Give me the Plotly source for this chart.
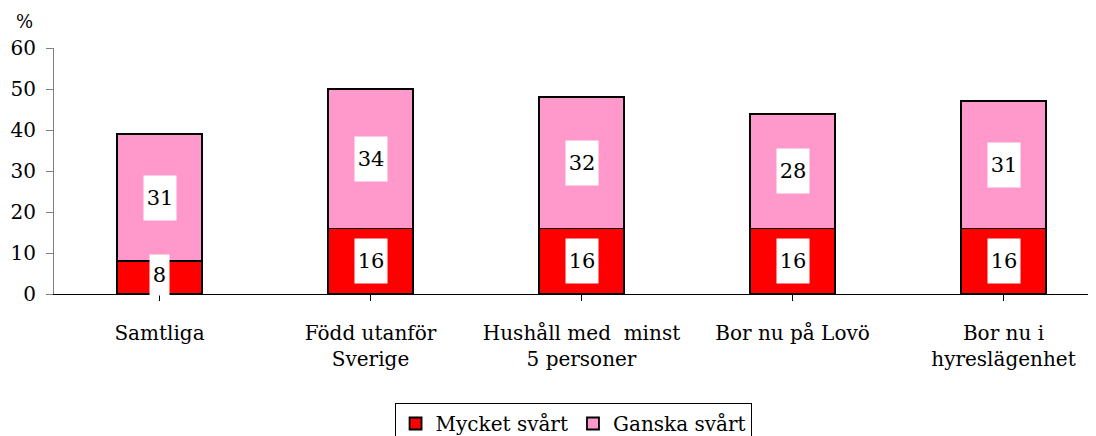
import plotly.graph_objects as go

categories = ["Samtliga", "Född utanför<br>Sverige", "Hushåll med\u00a0 minst<br>5 personer",
              "Bor nu på Lovö", "Bor nu i<br>hyreslägenhet"]
mycket = [8, 16, 16, 16, 16]
ganska = [31, 34, 32, 28, 31]
series_names = ["Mycket svårt", "Ganska svårt"]
y_ticks = [0, 10, 20, 30, 40, 50, 60]

FONT = "DejaVu Serif"
RED = "#FF0000"
PINK = "#FF99CC"

x_idx = list(range(len(categories)))

fig = go.Figure()
fig.add_trace(go.Bar(x=x_idx, y=mycket, name=series_names[0], width=0.4,
                     marker=dict(color=RED, line=dict(color="black", width=1.8))))
fig.add_trace(go.Bar(x=x_idx, y=ganska, name=series_names[1], width=0.4,
                     marker=dict(color=PINK, line=dict(color="black", width=1.8))))

annotations = []
for i, (m, g) in enumerate(zip(mycket, ganska)):
    w = 19 if m < 10 else 32
    annotations.append(dict(x=i, y=m / 2, text=str(m), showarrow=False,
                            bgcolor="white", width=w, height=40 if m < 10 else 44,
                            borderpad=0, yshift=3 if m < 10 else 0,
                            font=dict(family=FONT, size=21, color="black")))
    annotations.append(dict(x=i, y=m + g / 2, text=str(g), showarrow=False,
                            bgcolor="white", width=32, height=44, borderpad=0,
                            font=dict(family=FONT, size=21, color="black")))
annotations.append(dict(x=0, xref="paper", xanchor="right", xshift=-19,
                        y=1, yref="paper", yanchor="bottom", yshift=14,
                        text="%", showarrow=False,
                        font=dict(family=FONT, size=18, color="black")))

fig.update_layout(
    barmode="stack",
    width=1101, height=436,
    margin=dict(l=46, r=0, t=40, b=149),
    paper_bgcolor="white", plot_bgcolor="white",
    font=dict(family=FONT, size=20, color="black"),
    annotations=annotations,
    showlegend=True,
    legend=dict(orientation="h", x=0.492, xanchor="center", y=-0.441, yanchor="top",
                bordercolor="black", borderwidth=1, bgcolor="white",
                font=dict(family=FONT, size=20, color="black"),
                traceorder="normal", itemwidth=30),
    xaxis=dict(tickmode="array", tickvals=x_idx, ticktext=categories,
               range=[-0.5, 4.5], showline=True, linecolor="black", linewidth=1,
               ticks="outside", tickson="boundaries", ticklen=6, tickcolor="black",
               showgrid=False, zeroline=False, ticklabelstandoff=15,
               tickfont=dict(family=FONT, size=20, color="black")),
    yaxis=dict(range=[0, 60], tickvals=y_ticks, showline=True, linecolor="#808080",
               linewidth=1, ticks="outside", ticklen=7, tickcolor="#808080",
               showgrid=False, zeroline=False, ticklabelstandoff=6,
               tickfont=dict(family=FONT, size=20, color="black")),
)

fig.write_html("out.html")
